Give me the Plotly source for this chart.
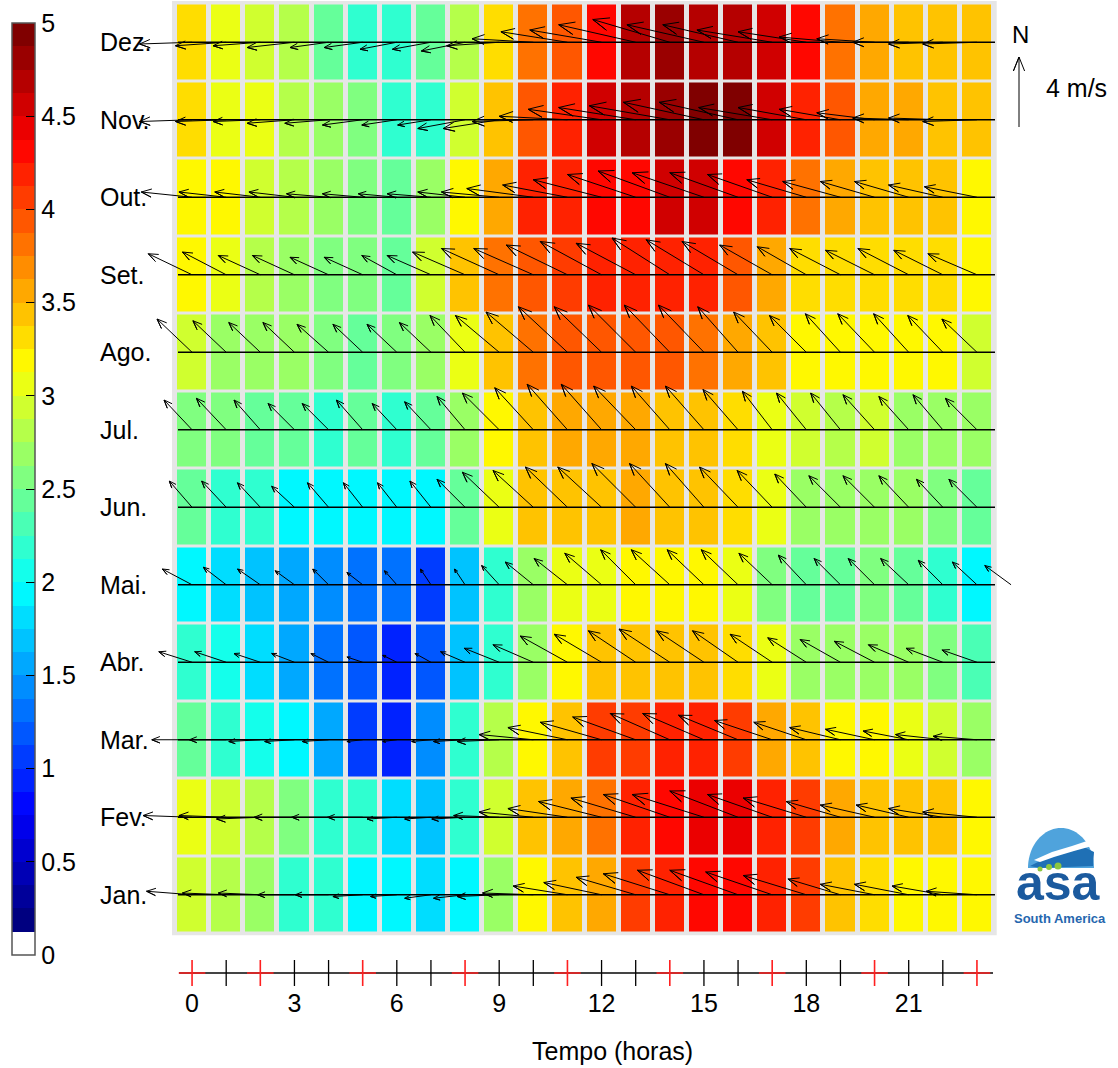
import math
import plotly.graph_objects as go

# ---------------- data ----------------
MONTHS = ["Jan.", "Fev.", "Mar.", "Abr.", "Mai.", "Jun.", "Jul.", "Ago.", "Set.", "Out.", "Nov.", "Dez."]
HOURS = list(range(24))
HOUR_TICKS = [0, 3, 6, 9, 12, 15, 18, 21]
RED_TICK_HOURS = [0, 2, 5, 8, 11, 14, 17, 20, 23]
CBAR_TICKS = [0, 0.5, 1, 1.5, 2, 2.5, 3, 3.5, 4, 4.5, 5]
CBAR_TEXT = ["0", "0.5", "1", "1.5", "2", "2.5", "3", "3.5", "4", "4.5", "5"]

# mean wind speed (m/s), rows Jan..Dez, columns hour 0..23
SPEED = [
    [2.94, 2.81, 2.69, 2.19, 2.19, 1.88, 1.94, 1.81, 1.94, 2.69, 3.19, 3.44, 3.56, 4.06, 4.19, 4.31, 4.31, 4.19, 4.06, 3.44, 3.31, 3.19, 3.19, 3.19],
    [3.06, 2.94, 2.81, 2.56, 2.19, 2.19, 1.81, 1.69, 2.19, 2.94, 3.44, 3.56, 3.81, 4.19, 4.31, 4.44, 4.44, 4.19, 4.06, 3.56, 3.44, 3.44, 3.44, 3.19],
    [2.44, 2.19, 2.06, 1.94, 1.56, 1.06, 0.94, 1.44, 2.19, 2.81, 3.19, 3.44, 4.06, 4.06, 4.19, 4.19, 4.06, 3.56, 3.44, 3.19, 3.19, 3.06, 2.94, 2.69],
    [2.19, 2.00, 1.81, 1.56, 1.31, 1.19, 0.94, 1.19, 1.69, 2.19, 2.69, 3.19, 3.44, 3.44, 3.44, 3.40, 3.31, 3.06, 2.69, 2.69, 2.69, 2.69, 2.56, 2.31],
    [1.94, 1.81, 1.69, 1.56, 1.44, 1.31, 1.31, 1.06, 1.69, 2.19, 2.69, 3.06, 3.06, 3.19, 3.19, 3.19, 3.06, 2.56, 2.44, 2.44, 2.56, 2.44, 2.19, 1.97],
    [2.44, 2.19, 2.19, 1.94, 1.97, 1.94, 1.94, 1.97, 2.44, 3.06, 3.44, 3.44, 3.44, 3.56, 3.44, 3.44, 3.31, 3.06, 2.69, 2.69, 2.63, 2.63, 2.56, 2.44],
    [2.56, 2.56, 2.44, 2.44, 2.19, 2.44, 2.19, 2.44, 2.69, 3.19, 3.44, 3.56, 3.56, 3.56, 3.44, 3.44, 3.31, 3.06, 2.94, 2.81, 2.94, 2.69, 2.69, 2.69],
    [2.94, 2.69, 2.69, 2.69, 2.56, 2.44, 2.56, 2.69, 3.06, 3.44, 3.81, 3.94, 3.94, 3.94, 3.94, 3.81, 3.56, 3.44, 3.19, 3.19, 3.19, 3.19, 3.19, 2.94],
    [3.19, 3.06, 2.81, 2.69, 2.56, 2.56, 2.44, 2.94, 3.44, 3.81, 3.94, 4.06, 4.19, 4.19, 4.19, 4.19, 3.94, 3.56, 3.31, 3.31, 3.31, 3.31, 3.31, 3.19],
    [3.19, 3.19, 2.94, 2.81, 2.69, 2.56, 2.44, 2.69, 3.19, 3.56, 4.19, 4.19, 4.31, 4.31, 4.56, 4.56, 4.31, 4.19, 3.81, 3.56, 3.44, 3.44, 3.44, 3.19],
    [3.31, 3.06, 3.06, 2.81, 2.69, 2.56, 2.19, 2.19, 2.94, 3.44, 3.94, 4.19, 4.56, 4.72, 4.81, 4.94, 4.94, 4.56, 4.19, 3.94, 3.56, 3.56, 3.44, 3.44],
    [3.31, 3.06, 2.94, 2.81, 2.44, 2.19, 2.19, 2.44, 2.81, 3.31, 3.81, 3.94, 4.31, 4.69, 4.81, 4.72, 4.69, 4.56, 4.31, 3.81, 3.56, 3.44, 3.44, 3.44],
]

# mean wind vector components (m/s): U eastward, V northward
U_WIND = [
    [-2.6, -2.5, -2.4, -2.1, -1.9, -1.7, -1.5, -1.5, -1.8, -2.4, -2.9, -3.1, -3.3, -3.4, -3.8, -3.8, -3.9, -3.8, -3.6, -3.0, -3.1, -3.1, -2.9, -2.9],
    [-2.8, -2.7, -2.5, -2.3, -2.1, -2.0, -1.7, -1.5, -1.9, -2.6, -3.1, -3.4, -3.6, -3.7, -3.8, -4.1, -3.9, -3.7, -3.6, -3.1, -3.1, -3.0, -3.1, -3.1],
    [-2.3, -2.1, -1.8, -1.7, -1.5, -0.9, -0.8, -1.1, -1.8, -2.4, -3.1, -3.4, -3.5, -3.6, -3.4, -3.5, -3.4, -3.3, -3.0, -2.9, -2.8, -2.6, -2.7, -2.5],
    [-1.9, -1.8, -1.5, -1.3, -1.0, -0.9, -0.8, -0.9, -1.4, -2.0, -2.3, -2.7, -2.7, -2.7, -2.9, -2.7, -2.6, -2.4, -2.2, -2.3, -2.3, -2.3, -2.1, -2.0],
    [-1.7, -1.3, -1.3, -1.1, -0.9, -0.9, -0.7, -0.6, -0.6, -1.0, -1.6, -1.9, -2.1, -2.0, -2.2, -2.1, -2.1, -1.9, -1.6, -1.5, -1.5, -1.6, -1.4, -1.4],
    [-1.3, -1.4, -1.3, -1.3, -1.2, -1.1, -1.1, -1.2, -1.6, -2.1, -2.3, -2.4, -2.5, -2.5, -2.3, -2.2, -2.2, -2.0, -1.8, -1.8, -1.8, -1.7, -1.5, -1.6],
    [-1.6, -1.7, -1.5, -1.5, -1.5, -1.5, -1.4, -1.5, -1.6, -2.1, -2.2, -2.3, -2.3, -2.4, -2.2, -2.2, -2.0, -1.7, -1.7, -1.7, -1.8, -1.7, -1.7, -1.8],
    [-2.0, -1.9, -1.8, -1.8, -1.8, -1.7, -1.7, -1.8, -2.0, -2.5, -2.7, -2.8, -2.7, -2.7, -2.6, -2.6, -2.3, -2.2, -2.1, -2.0, -2.1, -2.0, -2.0, -2.0],
    [-2.5, -2.5, -2.4, -2.4, -2.2, -2.2, -2.0, -2.5, -3.0, -3.3, -3.4, -3.5, -3.5, -3.4, -3.3, -3.3, -3.2, -3.0, -2.8, -2.9, -2.8, -2.9, -2.8, -2.8],
    [-2.9, -2.7, -2.6, -2.6, -2.4, -2.3, -2.2, -2.5, -2.7, -3.3, -3.8, -3.7, -3.9, -3.9, -4.1, -4.1, -3.9, -3.7, -3.4, -3.3, -3.1, -3.1, -3.1, -3.0],
    [-3.0, -2.9, -2.7, -2.7, -2.5, -2.3, -2.0, -1.9, -2.7, -3.2, -3.5, -3.9, -4.2, -4.4, -4.6, -4.6, -4.5, -4.2, -3.9, -3.5, -3.3, -3.2, -3.1, -3.1],
    [-3.0, -2.9, -2.7, -2.7, -2.2, -2.2, -2.1, -2.2, -2.5, -3.0, -3.5, -3.8, -4.1, -4.4, -4.4, -4.4, -4.3, -4.3, -3.9, -3.5, -3.3, -3.2, -3.1, -3.1],
]
V_WIND = [
    [0.2, 0.1, 0.1, 0.0, 0.0, -0.1, -0.1, -0.2, -0.2, -0.1, 0.1, 0.5, 0.7, 1.0, 1.2, 1.4, 1.4, 1.3, 1.1, 0.9, 0.6, 0.6, 0.5, 0.2],
    [0.1, 0.1, -0.1, 0.0, 0.0, 0.0, -0.1, -0.1, -0.1, 0.1, 0.3, 0.5, 0.9, 1.1, 1.3, 1.3, 1.5, 1.3, 1.1, 0.9, 0.7, 0.7, 0.5, 0.3],
    [0.0, 0.0, -0.1, -0.1, -0.1, -0.1, -0.1, -0.1, -0.1, -0.1, 0.3, 0.7, 1.0, 1.3, 1.5, 1.5, 1.4, 1.1, 1.0, 0.7, 0.6, 0.5, 0.3, 0.2],
    [0.6, 0.6, 0.5, 0.5, 0.5, 0.3, 0.4, 0.5, 0.6, 0.8, 1.0, 1.5, 1.6, 1.8, 1.9, 1.8, 1.8, 1.6, 1.4, 1.3, 1.2, 1.0, 0.8, 0.7],
    [0.9, 1.0, 0.9, 0.8, 0.9, 0.7, 0.8, 0.9, 0.9, 1.1, 1.3, 1.5, 1.8, 2.0, 2.0, 2.0, 2.0, 1.8, 1.7, 1.5, 1.5, 1.5, 1.4, 1.3],
    [1.5, 1.5, 1.4, 1.2, 1.4, 1.4, 1.4, 1.5, 1.6, 2.0, 2.1, 2.3, 2.3, 2.5, 2.5, 2.5, 2.3, 2.1, 1.9, 1.8, 1.8, 1.8, 1.6, 1.6],
    [1.7, 1.8, 1.7, 1.5, 1.5, 1.7, 1.5, 1.6, 1.9, 2.1, 2.4, 2.6, 2.6, 2.5, 2.5, 2.5, 2.3, 2.2, 2.1, 2.1, 2.0, 1.9, 2.0, 1.8],
    [1.9, 1.8, 1.7, 1.7, 1.6, 1.6, 1.6, 1.7, 2.1, 2.1, 2.3, 2.6, 2.6, 2.7, 2.7, 2.7, 2.6, 2.3, 2.1, 2.2, 2.2, 2.2, 2.1, 1.9],
    [1.2, 1.3, 1.1, 1.1, 1.0, 1.0, 1.1, 1.1, 1.3, 1.5, 1.5, 1.7, 1.9, 1.8, 2.1, 2.0, 1.9, 1.7, 1.6, 1.5, 1.4, 1.5, 1.4, 1.2],
    [0.3, 0.3, 0.3, 0.3, 0.2, 0.2, 0.2, 0.2, 0.3, 0.3, 0.5, 0.7, 1.0, 1.3, 1.5, 1.4, 1.4, 1.3, 1.0, 0.9, 0.9, 0.9, 0.7, 0.6],
    [-0.1, -0.1, -0.1, -0.2, -0.2, -0.3, -0.3, -0.3, -0.5, -0.5, -0.1, 0.2, 0.6, 0.7, 0.8, 1.0, 1.0, 0.7, 0.7, 0.6, 0.4, 0.1, 0.1, -0.1],
    [-0.1, -0.2, -0.2, -0.3, -0.3, -0.3, -0.4, -0.4, -0.5, -0.2, 0.2, 0.6, 0.7, 1.0, 1.3, 1.0, 1.0, 0.7, 0.6, 0.3, 0.2, 0.0, -0.1, -0.1],
]
# one extra vector drawn at hour 24 in the May row of the original
MAI_HOUR24_U = -1.5
MAI_HOUR24_V = 1.1

REF_SPEED = 4  # reference arrow, m/s

# ---------------- geometry (pixels) ----------------
W, H = 1118, 1068
PLOT_X0, PLOT_X1 = 100, 1030          # heatmap axes area (px)
PLOT_Y0, PLOT_Y1 = 1, 935.5
PAPER_BOTTOM = 1008
GRID_X0, GRID_X1 = 175.0, 994.0       # cell grid extents (px)
GRID_Y0, GRID_Y1 = 3.5, 933.5
COL_PX = (GRID_X1 - GRID_X0) / 24
ROW_PX = (GRID_Y1 - GRID_Y0) / 12
PX_PER_MS = 17.5                      # arrow length per m/s

PAPER_W = PLOT_X1 - PLOT_X0
PAPER_H = PAPER_BOTTOM - PLOT_Y0


def xp(px):
    return (px - PLOT_X0) / PAPER_W


def yp(py):
    return (PAPER_BOTTOM - py) / PAPER_H


def hx(px):  # pixel -> hour coordinate
    return -0.5 + (px - GRID_X0) / COL_PX


def my(py):  # pixel -> month coordinate
    return 11.5 - (py - GRID_Y0) / ROW_PX


X_RANGE = [hx(PLOT_X0), hx(PLOT_X1)]
Y_RANGE = [my(PLOT_Y1), my(PLOT_Y0)]

FONT = "Liberation Sans, Arial, sans-serif"


# ---------------- colour scale (jet, 40 steps, first white) ----------------
def jet(t):
    def c(v):
        return min(max(v, 0.0), 1.0)
    r, g, b = c(1.5 - abs(4 * t - 3)), c(1.5 - abs(4 * t - 2)), c(1.5 - abs(4 * t - 1))
    return f"rgb({round(255 * r)},{round(255 * g)},{round(255 * b)})"


NSTEP = 40
colorscale = []
for i in range(NSTEP):
    col = "rgb(255,255,255)" if i == 0 else jet((i - 1) / (NSTEP - 2))
    colorscale.append([i / NSTEP, col])
    colorscale.append([(i + 1) / NSTEP, col])

fig = go.Figure()

fig.add_trace(go.Heatmap(
    z=SPEED, x=HOURS, y=list(range(12)),
    zmin=0, zmax=5, colorscale=colorscale,
    xgap=5, ygap=3, hoverinfo="skip",
    colorbar=dict(
        x=xp(12), xanchor="left", xpad=0,
        y=yp(489), yanchor="middle", ypad=0,
        len=932, lenmode="pixels",
        thickness=23, thicknessmode="pixels",
        outlinewidth=1.5, outlinecolor="#555555",
        ticks="inside", ticklen=9, tickcolor="black", tickwidth=1,
        tickvals=CBAR_TICKS, ticktext=CBAR_TEXT,
        tickfont=dict(size=25, color="black", family=FONT),
    ),
))

# baselines
bx, by = [], []
for m in range(12):
    bx += [hx(178), hx(995), None]
    by += [m, m, None]
fig.add_trace(go.Scatter(x=bx, y=by, mode="lines", line=dict(color="black", width=1.3),
                         hoverinfo="skip", showlegend=False))

# arrows (feather style)
ax_, ay_ = [], []


def add_arrow(h, m, u, v):
    dx, dy = u * PX_PER_MS, v * PX_PER_MS
    pts = [(0, 0), (dx, dy),
           (0.8 * dx - 0.08 * dy, 0.08 * dx + 0.8 * dy),
           (dx, dy),
           (0.8 * dx + 0.08 * dy, -0.08 * dx + 0.8 * dy)]
    for px_, py_ in pts:
        ax_.append(h + px_ / COL_PX)
        ay_.append(m + py_ / ROW_PX)
    ax_.append(None)
    ay_.append(None)


for m in range(12):
    for h in HOURS:
        add_arrow(h, m, U_WIND[m][h], V_WIND[m][h])
add_arrow(24, MONTHS.index("Mai."), MAI_HOUR24_U, MAI_HOUR24_V)

# reference arrow (4 m/s north)
add_arrow(hx(1019), my(127), 0, REF_SPEED)

fig.add_trace(go.Scatter(x=ax_, y=ay_, mode="lines", line=dict(color="black", width=1),
                         hoverinfo="skip", showlegend=False))

# tick strip below
fig.add_trace(go.Scatter(x=[hx(179), hx(993)], y=[0, 0], mode="lines",
                         line=dict(color="#444444", width=2), xaxis="x2", yaxis="y2",
                         hoverinfo="skip", showlegend=False))
black_hours = [h for h in HOURS if h not in RED_TICK_HOURS]
fig.add_trace(go.Scatter(x=black_hours, y=[0] * len(black_hours), mode="markers",
                         marker=dict(symbol="line-ns", size=20, line=dict(color="black", width=1.3)),
                         xaxis="x2", yaxis="y2", hoverinfo="skip", showlegend=False))
fig.add_trace(go.Scatter(x=RED_TICK_HOURS, y=[0] * len(RED_TICK_HOURS), mode="markers",
                         marker=dict(symbol="cross-thin", size=19, line=dict(color="#ff2020", width=1.6)),
                         xaxis="x2", yaxis="y2", hoverinfo="skip", showlegend=False))

annotations = []
for m, name in enumerate(MONTHS):
    annotations.append(dict(x=xp(98), y=m, xref="paper", yref="y", text=name, showarrow=False,
                            xanchor="left", yanchor="middle",
                            font=dict(size=25, color="black", family=FONT)))
annotations += [
    dict(x=xp(612), y=yp(1051), xref="paper", yref="paper", text="Tempo (horas)", showarrow=False,
         xanchor="center", yanchor="middle", font=dict(size=25, color="black", family=FONT)),
    dict(x=xp(1020), y=yp(34), xref="paper", yref="paper", text="N", showarrow=False,
         xanchor="center", yanchor="middle", font=dict(size=24, color="black", family=FONT)),
    dict(x=xp(1044), y=yp(88), xref="paper", yref="paper", text="4 m/s", showarrow=False,
         xanchor="left", yanchor="middle", font=dict(size=25, color="black", family=FONT)),
    dict(x=xp(1058), y=yp(883), xref="paper", yref="paper", text="<b>asa</b>", showarrow=False,
         xanchor="center", yanchor="middle", font=dict(size=50, color="#1b5a9e", family=FONT)),
    dict(x=xp(1060), y=yp(918), xref="paper", yref="paper", text="<b>South America</b>", showarrow=False,
         xanchor="center", yanchor="middle", font=dict(size=13, color="#2566ae", family=FONT)),
]


def dome_path(cx, cy, rx, ry, n=40):
    pts = []
    for k in range(n + 1):
        a = math.pi * k / n
        pts.append((cx - rx * math.cos(a), cy - ry * math.sin(a)))
    return "M " + " L ".join(f"{xp(px_):.5f},{yp(py_):.5f}" for px_, py_ in pts) + " Z"


def poly_path(pts):
    return "M " + " L ".join(f"{xp(px_):.5f},{yp(py_):.5f}" for px_, py_ in pts) + " Z"


shapes = [
    dict(type="rect", xref="x", yref="y", x0=hx(172), x1=hx(996.7), y0=Y_RANGE[0], y1=Y_RANGE[1],
         fillcolor="#e6e6e6", line=dict(width=0), layer="below"),
    dict(type="path", xref="paper", yref="paper", path=dome_path(1061, 868, 33, 40),
         fillcolor="#4fa3dc", line=dict(width=0)),
    dict(type="path", xref="paper", yref="paper",
         path=poly_path([(1030, 866), (1046, 858), (1064, 851), (1082, 846), (1094, 852), (1093, 866), (1040, 868)]),
         fillcolor="#1f70b5", line=dict(width=0)),
    dict(type="path", xref="paper", yref="paper",
         path=poly_path([(1034, 860), (1052, 852), (1072, 846), (1090, 840), (1092, 846), (1074, 851), (1054, 857), (1040, 862)]),
         fillcolor="#ffffff", line=dict(width=0)),
]
for cxp, cyp, r in [(1040, 869, 2.5), (1049, 867, 3.0), (1058, 866, 3.5)]:
    shapes.append(dict(type="circle", xref="paper", yref="paper",
                       x0=xp(cxp - r), x1=xp(cxp + r), y0=yp(cyp + r), y1=yp(cyp - r),
                       fillcolor="#8dc63f", line=dict(width=0)))

fig.update_layout(
    width=W, height=H,
    margin=dict(l=PLOT_X0, r=W - PLOT_X1, t=PLOT_Y0, b=H - PAPER_BOTTOM, pad=0),
    paper_bgcolor="white", plot_bgcolor="white",
    font=dict(family=FONT, color="black"),
    showlegend=False,
    xaxis=dict(range=X_RANGE, domain=[0, 1], showticklabels=False, ticks="", showgrid=False,
               zeroline=False, showline=False, fixedrange=True),
    yaxis=dict(range=Y_RANGE, domain=[yp(PLOT_Y1), 1], showticklabels=False, ticks="", showgrid=False,
               zeroline=False, showline=False, fixedrange=True),
    xaxis2=dict(matches="x", anchor="y2", domain=[0, 1], tickvals=HOUR_TICKS,
                ticktext=[str(h) for h in HOUR_TICKS], ticks="", showgrid=False, zeroline=False,
                showline=False, tickfont=dict(size=25, color="black", family=FONT)),
    yaxis2=dict(domain=[yp(986), yp(960)], range=[-1, 1], visible=False, fixedrange=True),
    annotations=annotations,
    shapes=shapes,
)

fig.write_html("out.html", config={"displayModeBar": False},
               post_script="document.body.style.margin='0px';document.body.style.padding='0px';")
